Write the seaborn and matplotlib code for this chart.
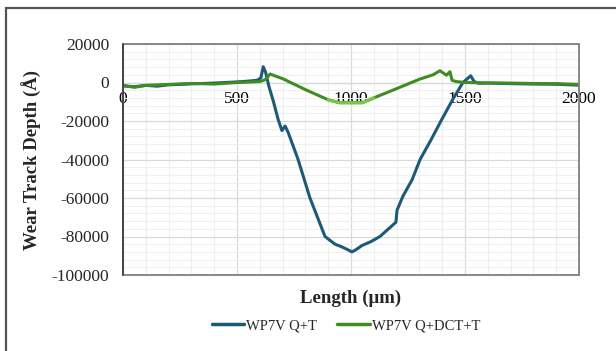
import numpy as np
import pandas as pd
import matplotlib
matplotlib.use('Agg')
import matplotlib.pyplot as plt
import seaborn as sns
from matplotlib.patches import Rectangle
from matplotlib.ticker import MultipleLocator

# wear track profiles (length in um, depth in angstrom)
len_qt = [0, 50, 100, 150, 200, 250, 300, 350, 400, 450, 500, 550, 590, 605, 615, 625,
          640, 660, 680, 697, 711, 724, 768, 820, 886, 908, 930, 952, 980, 1004, 1020,
          1048, 1090, 1127, 1197, 1202, 1228, 1268, 1303, 1350, 1399, 1450, 1491, 1525,
          1540, 1560, 1600, 1700, 1800, 1900, 2000]
depth_qt = [-1800, -2200, -1500, -1900, -1200, -1000, -700, -500, -300, 0, 300, 700, 1200,
            2500, 8200, 5500, -2000, -10000, -19000, -25000, -22600, -25800, -40000,
            -60000, -80000, -82000, -84000, -85000, -86500, -88000, -87000, -84700,
            -82500, -80000, -72600, -66300, -59000, -50500, -40000, -30000, -19000,
            -8000, 0, 3500, 500, -400, -300, -600, -800, -900, -1400]

len_dct = [0, 50, 100, 200, 300, 400, 500, 550, 600, 625, 645, 700, 800, 900, 950, 1000,
           1050, 1100, 1200, 1300, 1360, 1390, 1419, 1434, 1443, 1460, 1500, 1600, 1700,
           1800, 1900, 2000]
depth_dct = [-1500, -2500, -1500, -1000, -500, -800, 0, 200, 500, 1500, 4400, 2000, -3700,
             -9000, -10500, -10500, -10500, -8000, -3200, 1700, 4000, 6100, 3800, 5600,
             1200, 500, 0, -200, -300, -500, -600, -1000]

labels = ['WP7V Q+T', 'WP7V Q+DCT+T']
colors = {'WP7V Q+T': '#1d5a78', 'WP7V Q+DCT+T': '#3f8c22'}

df = pd.concat([
    pd.DataFrame({'Length': len_qt, 'Depth': depth_qt, 'Series': labels[0]}),
    pd.DataFrame({'Length': len_dct, 'Depth': depth_dct, 'Series': labels[1]}),
])

sns.set_style('white')
plt.rcParams['font.family'] = ['Liberation Serif', 'DejaVu Serif']
plt.rcParams['axes.unicode_minus'] = False

fig = plt.figure(figsize=(6.16, 3.51), dpi=100)
ax = fig.add_axes([123 / 616, 1 - 275 / 351, 456 / 616, 231 / 351])

sns.lineplot(data=df, x='Length', y='Depth', hue='Series', palette=colors,
             estimator=None, linewidth=2.2, ax=ax, legend=False)

# lighter green at the bottom of the shallow track
dct = df[df['Series'] == labels[1]]
low = dct[(dct['Length'] >= 860) & (dct['Length'] <= 1130)]
ax.plot(low['Length'], low['Depth'], color='#78c840', lw=2.2, solid_capstyle='round')

ax.set_xlim(0, 2000)
ax.set_ylim(-100000, 20000)
ax.xaxis.set_major_locator(MultipleLocator(500))
ax.xaxis.set_minor_locator(MultipleLocator(100))
ax.yaxis.set_major_locator(MultipleLocator(20000))
ax.yaxis.set_minor_locator(MultipleLocator(4000))

ax.grid(which='major', color='#d9d9d9', lw=0.9)
ax.grid(which='minor', color='#efefef', lw=0.8)
ax.set_axisbelow(True)

for s in ['top', 'right', 'left']:
    ax.spines[s].set_visible(False)
ax.spines['bottom'].set_position(('data', 0))
ax.spines['bottom'].set_color('#c8c8c8')
ax.spines['bottom'].set_zorder(0.5)
ax.add_patch(Rectangle((0, 0), 1, 1, transform=ax.transAxes, fill=False,
                       ec='#7f7f7f', lw=1.3, clip_on=False, zorder=3))
ax.plot([0, 0], [0, 1], transform=ax.transAxes, color='#404040', lw=1.3, clip_on=False, zorder=3)

ax.tick_params(axis='x', which='both', length=0, labelsize=12.5, pad=6, colors='#000000')
ax.tick_params(axis='y', which='major', direction='inout', length=8, width=1, color='#404040', labelsize=12.5, pad=6)
ax.tick_params(axis='y', which='minor', direction='out', length=4, width=1, color='#404040')

ax.set_xlabel('Length (μm)', fontsize=13.5, fontweight='bold')
ax.xaxis.set_label_coords(0.5, -0.065)
ax.xaxis.label.set_va('top')
ax.set_ylabel('Wear Track Depth (Å)', fontsize=13.5, fontweight='bold')
ax.yaxis.set_label_coords(-0.178, 0.5)

handles = [plt.Line2D([], [], color=colors[l], lw=2.5) for l in labels]
fig.legend(handles, labels, loc='center', bbox_to_anchor=(346 / 616, 1 - 326 / 351),
           ncol=2, frameon=False, fontsize=10.5, handlelength=2.2, handletextpad=0.15,
           columnspacing=1.4)

# outer chart border (left and top visible)
top = 1 - 7.5 / 351
fig.patches.append(Rectangle((6 / 616, -0.2), 1.2, top + 0.2, transform=fig.transFigure,
                             fill=False, ec='#555555', lw=1.6))

fig.savefig('out.png', dpi=100)
